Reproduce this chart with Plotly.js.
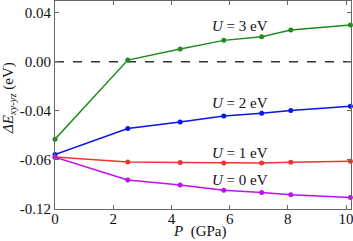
<!DOCTYPE html>
<html>
<head>
<meta charset="utf-8">
<script src="https://cdn.plot.ly/plotly-3.0.1.min.js"></script>
<style>html,body{margin:0;padding:0;background:#fff;}#chart{width:353px;height:241px;}</style>
</head>
<body>
<div id="chart"></div>
<script>
// Pressure (GPa)
const pressure = [0, 2.5, 4.3, 5.8, 7.1, 8.1, 10.15];
// ΔE_xy-yz (eV) for each U
const u3 = [-0.0631, 0.0014, 0.0104, 0.0175, 0.0204, 0.0259, 0.0300];
const u2 = [-0.0756, -0.0544, -0.0490, -0.0441, -0.0419, -0.0396, -0.0362];
const u1 = [-0.0776, -0.0816, -0.0821, -0.0824, -0.0824, -0.0819, -0.0811];
const u0 = [-0.0778, -0.0963, -0.1004, -0.1047, -0.1066, -0.1083, -0.1107];
const seriesNames = ["U = 3 eV", "U = 2 eV", "U = 1 eV", "U = 0 eV"];
const labelText = ["<i>U</i> = 3 eV", "<i>U</i> = 2 eV", "<i>U</i> = 1 eV", "<i>U</i> = 0 eV"];
const labelY = [0.0291, -0.0337, -0.0745, -0.0966];
const labelX = 6.36;
const yTickVals = [0.04, 0.00, -0.04, -0.08, -0.12];
const yTickText = ["0.04", "0.00", "-0.04", "-0.06", "-0.12"];
const xTickVals = [0, 2, 4, 6, 8, 10];

const colors = ["#1e8c1e", "#0a14f0", "#f03232", "#c010f0"];
const series = [u3, u2, u1, u0];
const font = "Liberation Serif, Times New Roman, serif";

const traces = series.map((ys, i) => ({
  x: pressure, y: ys, name: seriesNames[i], type: "scatter", mode: "lines+markers",
  line: {color: colors[i], width: 1.5},
  marker: {color: colors[i], size: 5},
  cliponaxis: false
}));

const annotations = labelText.map((t, i) => ({
  x: labelX, y: labelY[i], xref: "x", yref: "y", text: t, showarrow: false,
  font: {family: font, size: 15, color: "#111"}, xanchor: "center", yanchor: "middle"
}));
annotations.push({
  xref: "paper", yref: "paper", x: 0.49, y: -0.108, text: "<i>P</i>  (GPa)", showarrow: false,
  font: {family: font, size: 15, color: "#111"}, xanchor: "center", yanchor: "middle"
});
annotations.push({
  xref: "paper", yref: "paper", x: -0.158, y: 0.535, text: "<i>ΔE</i><sub><i>xy-yz</i></sub> (eV)", showarrow: false,
  textangle: -90, font: {family: font, size: 15, color: "#111"}, xanchor: "center", yanchor: "middle"
});

const layout = {
  width: 353, height: 241,
  margin: {l: 55, r: 2, t: 1, b: 32, pad: 0},
  paper_bgcolor: "#fff", plot_bgcolor: "#fff",
  showlegend: false,
  font: {family: font, size: 14, color: "#111"},
  xaxis: {
    range: [0, 10.17], tickvals: xTickVals, ticks: "inside", ticklen: 4, tickcolor: "#666",
    showline: true, linecolor: "#666", linewidth: 1, mirror: "ticks", showgrid: false, zeroline: false,
    ticklabeloverflow: "allow", ticklabelstandoff: -4,
    tickfont: {family: font, size: 15, color: "#111"}
  },
  yaxis: {
    range: [-0.12, 0.0496], tickvals: yTickVals, ticktext: yTickText, ticks: "inside", ticklen: 4, tickcolor: "#666",
    showline: true, linecolor: "#666", linewidth: 1, mirror: "ticks", showgrid: false, zeroline: false,
    ticklabeloverflow: "allow",
    tickfont: {family: font, size: 15, color: "#111"}
  },
  shapes: [{type: "line", xref: "paper", x0: 0, x1: 1, yref: "y", y0: 0, y1: 0,
    line: {color: "#333", width: 1.5, dash: "dash"}, layer: "below"}],
  annotations: annotations
};

Plotly.newPlot("chart", traces, layout, {displayModeBar: false, staticPlot: true});
</script>
</body>
</html>
